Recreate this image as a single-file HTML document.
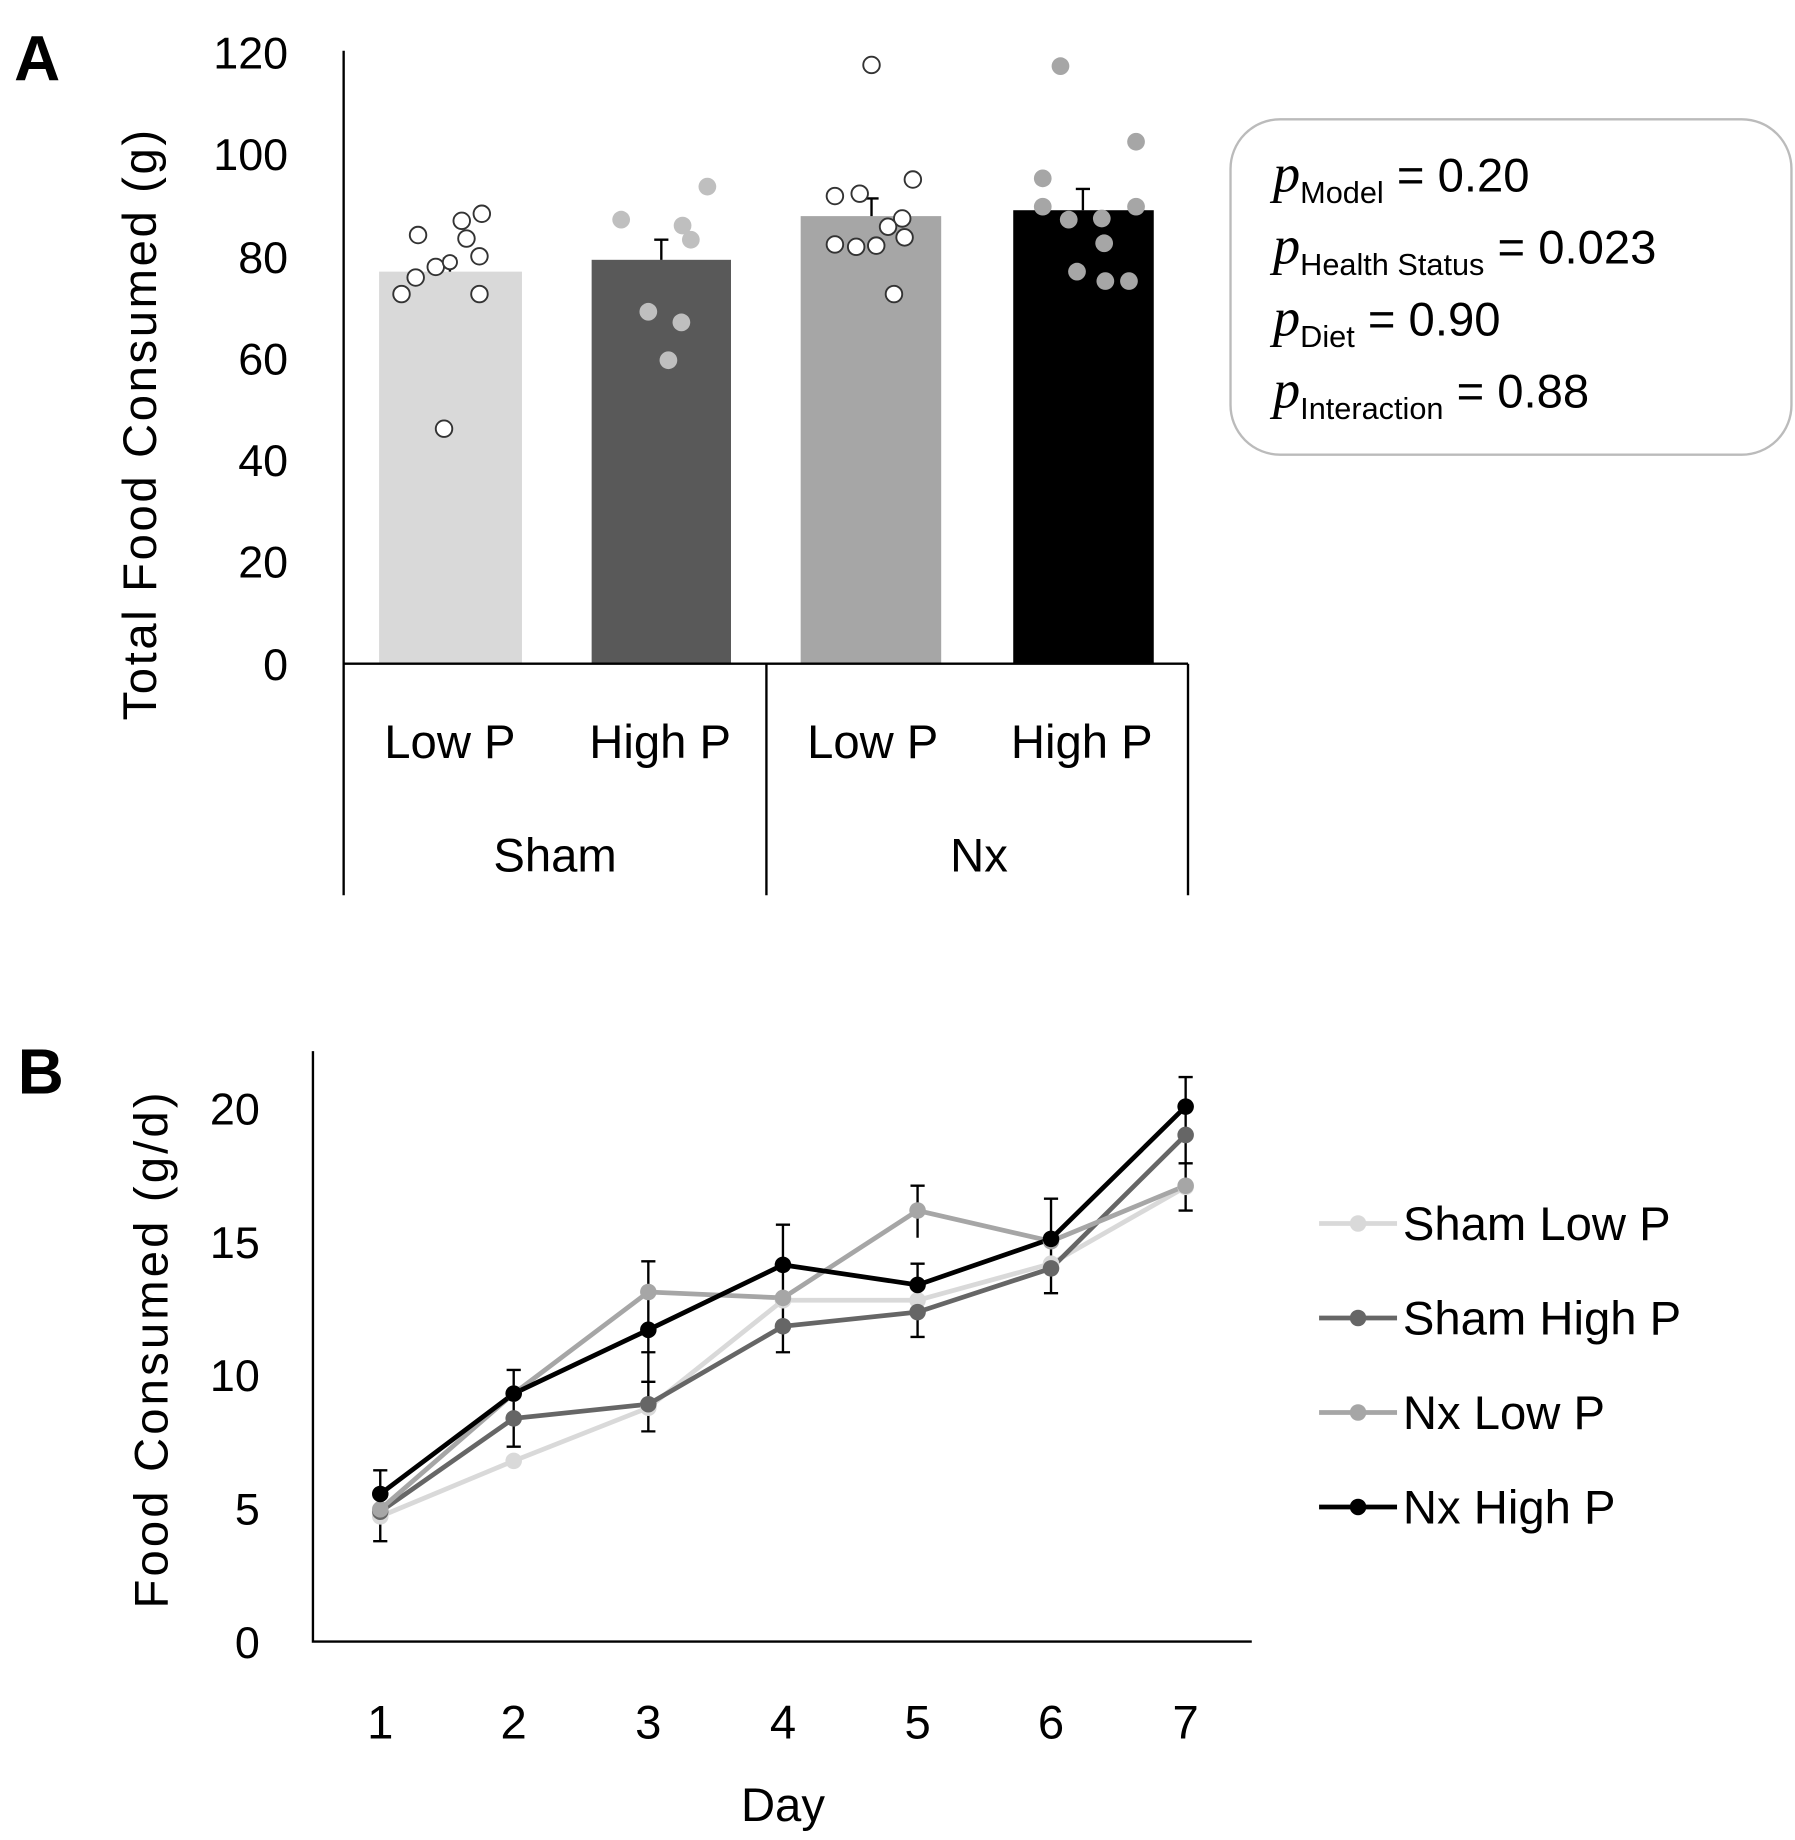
<!DOCTYPE html>
<html><head><meta charset="utf-8"><style>html,body{margin:0;padding:0;background:#fff}svg{display:block}</style></head><body>
<svg width="1795" height="1840" viewBox="0 0 1520 1558" preserveAspectRatio="none" xmlns="http://www.w3.org/2000/svg" font-family="Liberation Sans, sans-serif" fill="#000">
<rect width="1520" height="1558" fill="#fff"/>
<!-- Panel A -->
<text x="12" y="68" font-size="54" font-weight="bold">A</text>
<g font-size="38" text-anchor="end">
<text x="244" y="58">120</text><text x="244" y="144">100</text><text x="244" y="231">80</text>
<text x="244" y="317">60</text><text x="244" y="403">40</text><text x="244" y="489">20</text><text x="244" y="576">0</text>
</g>
<text transform="translate(132,610) rotate(-90)" font-size="40" textLength="500" lengthAdjust="spacing">Total Food Consumed (g)</text>
<rect x="321" y="230" width="121" height="332" fill="#d9d9d9"/>
<rect x="501" y="220" width="118" height="342" fill="#595959"/>
<rect x="678" y="183" width="119" height="379" fill="#a6a6a6"/>
<rect x="858" y="178" width="119" height="384" fill="#000"/>
<g stroke="#000" stroke-width="2" fill="none">
<path d="M381 230V219M375 219H387M560 220V203M554 203H566M738 183V168M732 168H744M917 178V160M911 160H923"/>
<path d="M291 43V758M291 562H1006M649 562V758M1006 562V758" stroke-width="2"/>
</g>
<g fill="#fff" stroke="#333" stroke-width="1.6">
<circle cx="354" cy="199" r="7"/><circle cx="391" cy="187" r="7"/><circle cx="408" cy="181" r="7"/><circle cx="395" cy="202" r="7"/><circle cx="369" cy="226" r="7"/><circle cx="352" cy="235" r="7"/><circle cx="340" cy="249" r="7"/><circle cx="406" cy="217" r="7"/><circle cx="406" cy="249" r="7"/><circle cx="376" cy="363" r="7"/><circle cx="381" cy="222" r="6"/>
<circle cx="738" cy="55" r="7"/><circle cx="773" cy="152" r="7"/><circle cx="707" cy="166" r="7"/><circle cx="728" cy="164" r="7"/><circle cx="764" cy="185" r="7"/><circle cx="752" cy="192" r="7"/><circle cx="707" cy="207" r="7"/><circle cx="725" cy="209" r="7"/><circle cx="742" cy="208" r="7"/><circle cx="766" cy="201" r="7"/><circle cx="757" cy="249" r="7"/>
</g>
<g fill="#bfbfbf">
<circle cx="526" cy="186" r="7.5"/><circle cx="599" cy="158" r="7.5"/><circle cx="578" cy="191" r="7.5"/><circle cx="585" cy="203" r="7.5"/><circle cx="549" cy="264" r="7.5"/><circle cx="577" cy="273" r="7.5"/><circle cx="566" cy="305" r="7.5"/>
</g>
<g fill="#a6a6a6">
<circle cx="898" cy="56" r="7.5"/><circle cx="962" cy="120" r="7.5"/><circle cx="883" cy="151" r="7.5"/><circle cx="883" cy="175" r="7.5"/><circle cx="962" cy="175" r="7.5"/><circle cx="905" cy="186" r="7.5"/><circle cx="933" cy="185" r="7.5"/><circle cx="935" cy="206" r="7.5"/><circle cx="912" cy="230" r="7.5"/><circle cx="936" cy="238" r="7.5"/><circle cx="956" cy="238" r="7.5"/>
</g>
<g font-size="40" text-anchor="middle">
<text x="381" y="642">Low P</text><text x="559" y="642">High P</text><text x="739" y="642">Low P</text><text x="916" y="642">High P</text>
<text x="470" y="738">Sham</text><text x="829" y="738">Nx</text>
</g>
<rect x="1042" y="101" width="475" height="284" rx="42" fill="none" stroke="#bbb" stroke-width="2"/>
<g font-size="40">
<text x="1078" y="162"><tspan font-style="italic" font-family="Liberation Serif, serif" font-size="46">p</tspan><tspan font-size="26" dy="10">Model</tspan><tspan dy="-10"> = 0.20</tspan></text>
<text x="1078" y="223"><tspan font-style="italic" font-family="Liberation Serif, serif" font-size="46">p</tspan><tspan font-size="26" dy="10">Health Status</tspan><tspan dy="-10"> = 0.023</tspan></text>
<text x="1078" y="284"><tspan font-style="italic" font-family="Liberation Serif, serif" font-size="46">p</tspan><tspan font-size="26" dy="10">Diet</tspan><tspan dy="-10"> = 0.90</tspan></text>
<text x="1078" y="345"><tspan font-style="italic" font-family="Liberation Serif, serif" font-size="46">p</tspan><tspan font-size="26" dy="10">Interaction</tspan><tspan dy="-10"> = 0.88</tspan></text>
</g>
<!-- Panel B -->
<text x="15" y="926" font-size="54" font-weight="bold">B</text>
<g font-size="38" text-anchor="end">
<text x="220" y="952">20</text><text x="220" y="1065">15</text><text x="220" y="1178">10</text><text x="220" y="1291">5</text><text x="220" y="1404">0</text>
</g>
<text transform="translate(142,1362) rotate(-90)" font-size="40" textLength="437" lengthAdjust="spacing">Food Consumed (g/d)</text>
<path d="M265 890V1390H1060" stroke="#000" stroke-width="2" fill="none"/>
<g font-size="40" text-anchor="middle">
<text x="322" y="1472">1</text><text x="435" y="1472">2</text><text x="549" y="1472">3</text><text x="663" y="1472">4</text><text x="777" y="1472">5</text><text x="890" y="1472">6</text><text x="1004" y="1472">7</text>
<text x="663" y="1542">Day</text>
</g>
<g stroke="#000" stroke-width="2" fill="none">
<path d="M322 1245V1305M316 1245H328M316 1305H328M435 1160V1225M429 1160H441M429 1225H441M549 1068V1212M543 1068H555M543 1145H555M543 1170H555M543 1212H555M663 1037V1145M657 1037H669M657 1145H669M777 1004V1048M771 1004H783M777 1070V1132M771 1070H783M771 1132H783M890 1015V1095M884 1015H896M884 1095H896M1004 912V1025M998 912H1010M998 985H1010M998 1025H1010"/>
</g>
<polyline points="322,1284 435,1237 549,1192 663,1101 777,1101 890,1070 1004,1005" fill="none" stroke="#d9d9d9" stroke-width="4"/>
<polyline points="322,1280 435,1201 549,1189 663,1123 777,1111 890,1074 1004,961" fill="none" stroke="#666" stroke-width="4"/>
<polyline points="322,1278 435,1180 549,1094 663,1099 777,1025 890,1051 1004,1004" fill="none" stroke="#a6a6a6" stroke-width="4"/>
<polyline points="322,1265 435,1180 549,1126 663,1071 777,1088 890,1049 1004,937" fill="none" stroke="#000" stroke-width="4"/>
<g fill="#d9d9d9"><circle cx="322" cy="1284" r="7"/><circle cx="435" cy="1237" r="7"/><circle cx="549" cy="1192" r="7"/><circle cx="663" cy="1101" r="7"/><circle cx="777" cy="1101" r="7"/><circle cx="890" cy="1070" r="7"/><circle cx="1004" cy="1005" r="7"/></g>
<g fill="#666"><circle cx="322" cy="1280" r="7"/><circle cx="435" cy="1201" r="7"/><circle cx="549" cy="1189" r="7"/><circle cx="663" cy="1123" r="7"/><circle cx="777" cy="1111" r="7"/><circle cx="890" cy="1074" r="7"/><circle cx="1004" cy="961" r="7"/></g>
<g fill="#a6a6a6"><circle cx="322" cy="1278" r="7"/><circle cx="435" cy="1180" r="7"/><circle cx="549" cy="1094" r="7"/><circle cx="663" cy="1099" r="7"/><circle cx="777" cy="1025" r="7"/><circle cx="890" cy="1051" r="7"/><circle cx="1004" cy="1004" r="7"/></g>
<g fill="#000"><circle cx="322" cy="1265" r="7"/><circle cx="435" cy="1180" r="7"/><circle cx="549" cy="1126" r="7"/><circle cx="663" cy="1071" r="7"/><circle cx="777" cy="1088" r="7"/><circle cx="890" cy="1049" r="7"/><circle cx="1004" cy="937" r="7"/></g>
<g stroke-width="4">
<line x1="1117" y1="1036" x2="1183" y2="1036" stroke="#d9d9d9"/><circle cx="1150" cy="1036" r="7" fill="#d9d9d9"/>
<line x1="1117" y1="1116" x2="1183" y2="1116" stroke="#666"/><circle cx="1150" cy="1116" r="7" fill="#666"/>
<line x1="1117" y1="1196" x2="1183" y2="1196" stroke="#a6a6a6"/><circle cx="1150" cy="1196" r="7" fill="#a6a6a6"/>
<line x1="1117" y1="1276" x2="1183" y2="1276" stroke="#000"/><circle cx="1150" cy="1276" r="7" fill="#000"/>
</g>
<g font-size="40">
<text x="1188" y="1050">Sham Low P</text><text x="1188" y="1130">Sham High P</text><text x="1188" y="1210">Nx Low P</text><text x="1188" y="1290">Nx High P</text>
</g>
</svg>
</body></html>
